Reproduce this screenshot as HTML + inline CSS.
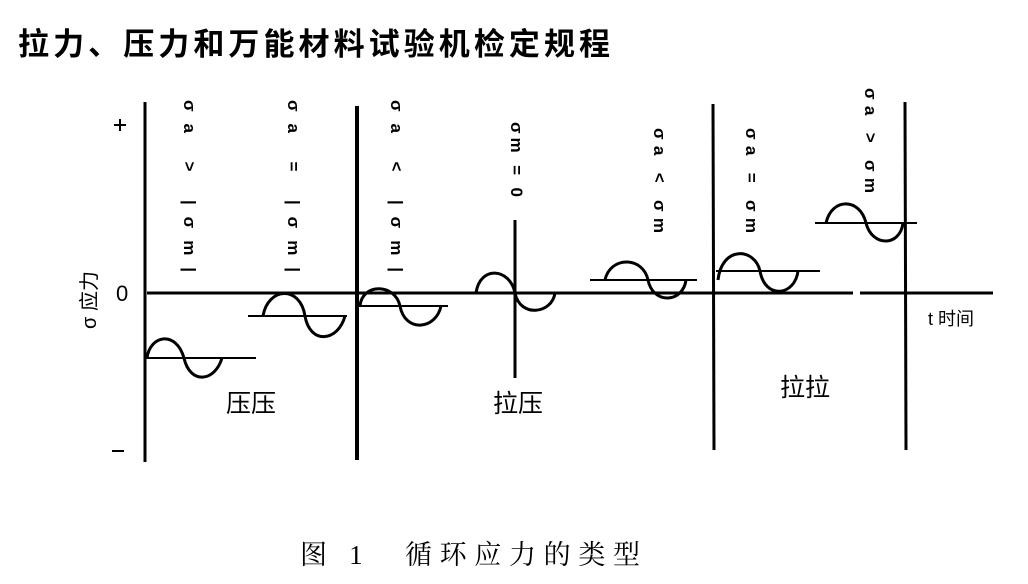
<!DOCTYPE html>
<html><head><meta charset="utf-8"><style>
html,body{margin:0;padding:0;background:#fff;}
svg{display:block;}
</style></head><body>
<svg width="1028" height="584" viewBox="0 0 1028 584" xmlns="http://www.w3.org/2000/svg" font-family="'Liberation Sans','Noto Sans CJK SC',sans-serif">
<text x="18" y="55" font-size="31" font-weight="bold" fill="#000" textLength="592" lengthAdjust="spacing">拉力、压力和万能材料试验机检定规程</text>
<g stroke="#000" fill="none">
<line x1="145" y1="102" x2="145" y2="462" stroke-width="3"/>
<line x1="357" y1="106" x2="357" y2="460" stroke-width="4"/>
<line x1="515" y1="220" x2="515" y2="378" stroke-width="3"/>
<line x1="713" y1="104" x2="714" y2="450" stroke-width="3"/>
<line x1="905" y1="102" x2="906" y2="450" stroke-width="3"/>
<line x1="147" y1="293" x2="853" y2="293" stroke-width="3"/>
<line x1="860" y1="293" x2="993" y2="293" stroke-width="3"/>
<line x1="114" y1="125" x2="126" y2="125" stroke-width="2"/><line x1="120" y1="119" x2="120" y2="131" stroke-width="2"/>
<line x1="112" y1="451" x2="124" y2="451" stroke-width="2"/>
<g stroke-width="2">
<line x1="145" y1="358" x2="256" y2="358"/>
<line x1="248" y1="316" x2="347" y2="316"/>
<line x1="357" y1="306" x2="448" y2="306"/>
<line x1="590" y1="280" x2="697" y2="280"/>
<line x1="716" y1="271" x2="820" y2="271"/>
<line x1="815" y1="223" x2="917" y2="223"/>
</g>
<g stroke-width="3">
<path d="M147 358 C150 335 176 330 184 358 C190 385 215 382 222 358"/>
<path d="M263 316 C268 287 300 285 305 316 C310 345 338 342 345 316"/>
<path d="M360 306 C362 283 395 283 400 306 C405 333 436 330 441 306"/>
<path d="M476 293 C480 265 510 268 515 293 C520 318 552 314 555 293"/>
<path d="M605 280 C610 256 643 256 648 280 C653 305 683 303 686 280"/>
<path d="M718 280 C722 245 755 248 760 271 C765 300 795 296 798 271"/>
<path d="M826 223 C832 197 860 198 866 223 C872 247 900 247 903 223"/>
</g>
</g>
<g font-size="25" fill="#000">
<text x="116" y="301" font-size="22">0</text>
<text x="226" y="412">压压</text>
<text x="493" y="412">拉压</text>
<text x="780" y="396">拉拉</text>
<text x="928" y="325" font-size="18">t 时间</text>
</g>
<text transform="translate(96,300) rotate(-90)" text-anchor="middle" font-size="20">σ 应力</text>
<g font-size="17" font-weight="bold">
<text transform="translate(184,100) rotate(90)" textLength="172" lengthAdjust="spacing">σa &gt; |σm|</text>
<text transform="translate(288,100) rotate(90)" textLength="172" lengthAdjust="spacing">σa = |σm|</text>
<text transform="translate(391,100) rotate(90)" textLength="172" lengthAdjust="spacing">σa &lt; |σm|</text>
<text transform="translate(511,122) rotate(90)" textLength="75" lengthAdjust="spacing">σm = 0</text>
<text transform="translate(654,128) rotate(90)" textLength="105" lengthAdjust="spacing">σa &lt; σm</text>
<text transform="translate(746,128) rotate(90)" textLength="105" lengthAdjust="spacing">σa = σm</text>
<text transform="translate(865,88) rotate(90)" textLength="105" lengthAdjust="spacing">σa &gt; σm</text>
</g>
<text x="300" y="564" font-size="27" font-family="'Liberation Serif','Noto Serif CJK SC',serif" textLength="340" lengthAdjust="spacing">图 1　循环应力的类型</text>
</svg>
</body></html>
